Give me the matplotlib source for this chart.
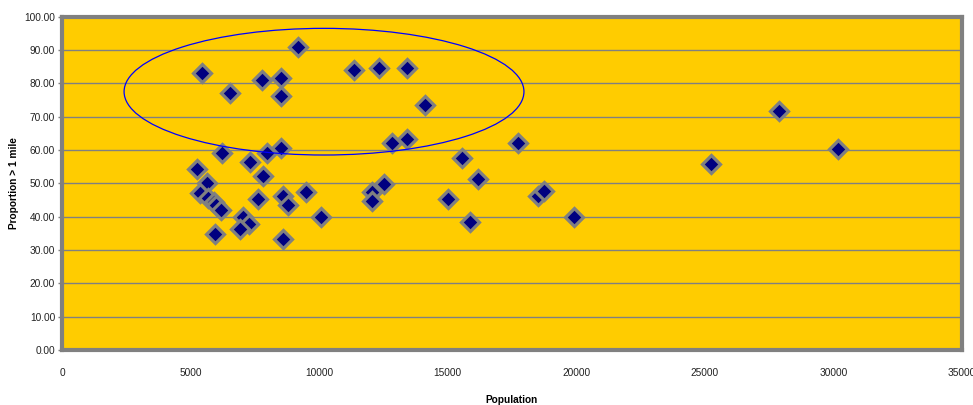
import matplotlib
matplotlib.use("Agg")
import matplotlib.pyplot as plt
from matplotlib.patches import Ellipse

plt.rcParams['font.family'] = ['Liberation Sans', 'DejaVu Sans']

# population of each area and the share travelling more than a mile
population = [5445, 6534, 7779, 8518, 8518, 9179, 11357, 12330, 13419, 14119,
              12835, 13419, 6235, 7990, 8506, 5262, 7312, 7805, 5650, 5370,
              5690, 5900, 6000, 6170, 7610, 8610, 8800, 9477, 7028, 7273,
              6923, 5938, 8584, 10087, 12058, 12058, 12535, 15000, 15570, 16170,
              15870, 17750, 18530, 18760, 19910, 25230, 27890, 30170]
proportion = [83.0, 77.0, 81.0, 81.7, 76.2, 90.8, 84.0, 84.6, 84.6, 73.5,
              62.0, 63.4, 59.0, 59.0, 60.5, 54.4, 56.5, 52.1, 50.0, 47.0,
              45.6, 44.5, 43.6, 42.0, 45.2, 46.3, 43.6, 47.5, 40.0, 37.7,
              36.2, 34.7, 33.2, 40.0, 47.5, 44.7, 49.8, 45.2, 57.5, 51.3,
              38.4, 62.0, 46.2, 47.8, 40.0, 55.8, 71.8, 60.4]

# highlighted group: centre (x, y), width, height
ring_centre = (10190, 77.5)
ring_width = 15550
ring_height = 38.0

yticks = [i * 10 for i in range(11)]
xticks = [0, 5000, 10000, 15000, 20000, 25000, 30000, 35000]

fig = plt.figure(figsize=(9.73, 4.05), dpi=100)
ax = fig.add_axes([0.0637, 0.1358, 0.925, 0.823])
ax.set_facecolor('#FFCC00')

ax.set_xlim(0, 35000)
ax.set_ylim(0, 100)
ax.set_yticks(yticks)
ax.set_yticklabels(['%.2f' % v for v in yticks], fontsize=7.3, color='#222222')
ax.set_xticks(xticks)
ax.set_xticklabels([str(v) for v in xticks], fontsize=7.3, color='#222222')
ax.tick_params(axis='y', length=3, width=1, color='#808080', pad=2)
ax.tick_params(axis='x', length=0, pad=13)

ax.yaxis.grid(True, color='#808080', linewidth=1)
ax.set_axisbelow(True)
for s in ax.spines.values():
    s.set_color('#808080')
    s.set_linewidth(3)

ax.plot(population, proportion, linestyle='none', marker='D', markersize=9,
        markerfacecolor='#000080', markeredgecolor='#808080',
        markeredgewidth=2.3, zorder=3)

ax.add_patch(Ellipse(ring_centre, ring_width, ring_height, fill=False,
                     edgecolor='#0000FF', linewidth=0.9, zorder=4))

ax.set_xlabel('Population', fontsize=7.3, fontweight='bold', labelpad=12)
ax.set_ylabel('Proportion > 1 mile', fontsize=7.3, fontweight='bold', labelpad=4)

fig.savefig('out.png', dpi=100, facecolor='white')
